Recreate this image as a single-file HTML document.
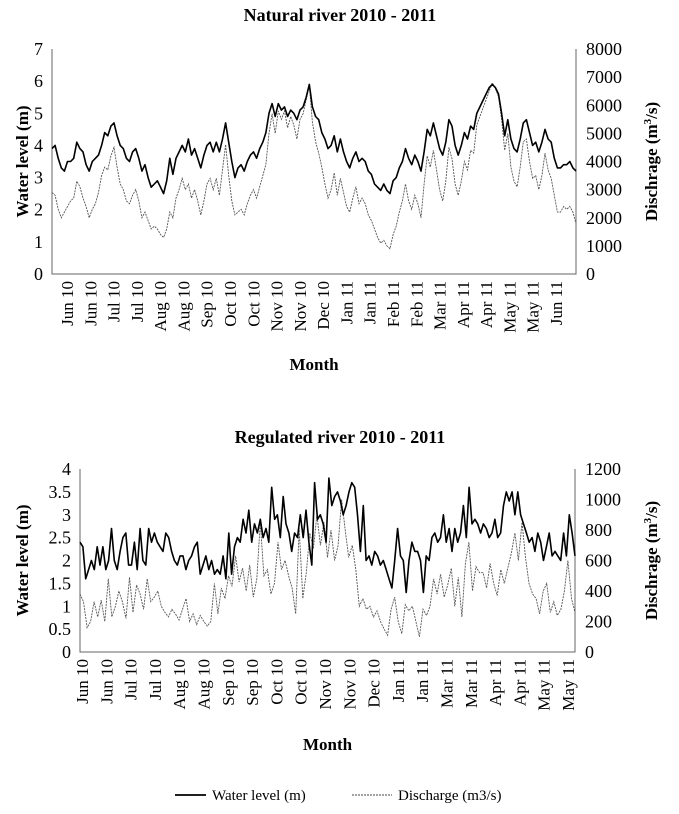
<!DOCTYPE html>
<html><head><meta charset="utf-8"><style>
body{margin:0;background:#fff}
svg{display:block;font-family:"Liberation Serif",serif}
</style></head><body>
<svg id="s" width="679" height="814" viewBox="0 0 679 814">
<text x="340" y="21" text-anchor="middle" font-size="18" font-weight="bold">Natural river 2010 - 2011</text>
<text x="340" y="443" text-anchor="middle" font-size="18" font-weight="bold">Regulated river 2010 - 2011</text>
<g>
<line x1="175" y1="795" x2="206" y2="795" stroke="#000" stroke-width="1.8"/>
<text x="212" y="800" font-size="15">Water level (m)</text>
<line x1="352" y1="795" x2="392" y2="795" stroke="#444" stroke-width="0.9" stroke-dasharray="2,1"/>
<text x="398" y="800" font-size="15">Discharge (m3/s)</text>
</g>
</svg>
<script>
const topLabels=["Jun 10","Jun 10","Jul 10","Jul 10","Aug 10","Aug 10","Sep 10","Oct 10","Oct 10","Nov 10","Nov 10","Dec 10","Jan 11","Jan 11","Feb 11","Feb 11","Mar 11","Apr 11","Apr 11","May 11","May 11","Jun 11"];
const botLabels=["Jun 10","Jun 10","Jul 10","Jul 10","Aug 10","Aug 10","Sep 10","Sep 10","Oct 10","Oct 10","Nov 10","Nov 10","Dec 10","Jan 11","Jan 11","Mar 11","Mar 11","Apr 11","Apr 11","May 11","May 11"];
const topLeftTicks=[0,1,2,3,4,5,6,7];
const topRightTicks=[0,1000,2000,3000,4000,5000,6000,7000,8000];
const botLeftTicks=[0,0.5,1,1.5,2,2.5,3,3.5,4];
const botRightTicks=[0,200,400,600,800,1000,1200];
const topLevel=[3.9,4.0,3.6,3.3,3.2,3.5,3.5,3.6,4.1,3.9,3.8,3.4,3.2,3.5,3.6,3.7,4.0,4.4,4.3,4.6,4.7,4.3,4.0,3.9,3.6,3.5,3.8,3.9,3.6,3.2,3.4,3.0,2.7,2.8,2.9,2.7,2.5,2.9,3.6,3.1,3.6,3.8,4.0,3.8,4.2,3.7,3.9,3.6,3.3,3.7,4.0,4.1,3.8,4.1,3.8,4.2,4.7,4.1,3.5,3.0,3.3,3.4,3.2,3.5,3.7,3.8,3.6,3.9,4.1,4.4,5.0,5.3,4.9,5.3,5.1,5.2,4.9,5.1,5.0,4.8,5.1,5.2,5.5,5.9,5.2,4.9,4.8,4.4,4.2,3.9,4.0,4.3,3.8,4.2,3.8,3.5,3.3,3.6,3.8,3.5,3.6,3.5,3.2,3.1,2.8,2.7,2.6,2.8,2.6,2.5,2.9,3.0,3.3,3.5,3.9,3.6,3.4,3.7,3.5,3.2,3.8,4.5,4.3,4.7,4.3,3.9,3.7,4.1,4.8,4.6,4.0,3.7,4.0,4.4,4.2,4.6,4.5,5.0,5.2,5.4,5.6,5.8,5.9,5.8,5.6,5.0,4.3,4.8,4.2,3.9,3.8,4.2,4.7,4.8,4.4,4.0,4.1,3.8,4.1,4.5,4.2,4.1,3.6,3.3,3.3,3.4,3.4,3.5,3.3,3.2];
const topFlow=[2900,2800,2300,2000,2200,2400,2600,2700,3300,3100,2700,2400,2000,2300,2500,2900,3500,3800,3700,4200,4500,3800,3200,3000,2600,2500,2800,3000,2600,2000,2200,1900,1600,1700,1600,1400,1300,1600,2200,2000,2700,3000,3400,3000,3200,2700,3000,2600,2100,2600,3200,3400,3000,3400,2800,3700,4600,3500,2600,2100,2200,2300,2100,2500,2800,3000,2700,3100,3500,3900,5000,5700,5000,5800,5500,5800,5200,5600,5300,4800,5500,5700,6200,6700,5400,4700,4300,3800,3200,2700,3000,3600,2800,3400,2900,2400,2200,2700,3100,2500,2700,2500,2100,1900,1600,1300,1100,1200,1000,900,1400,1700,2200,2600,3200,2600,2300,2800,2500,2000,3200,4200,3800,4400,3700,3000,2600,3300,4500,4100,3200,2800,3300,4000,3700,4400,4300,5300,5600,5900,6200,6500,6800,6600,6300,5500,4400,5000,3800,3300,3100,3800,4700,4800,4000,3400,3500,3000,3500,4300,3700,3400,2800,2200,2200,2400,2300,2400,2200,1800];
const botLevel=[2.4,2.3,1.6,1.8,2.0,1.8,2.3,1.9,2.3,1.8,2.0,2.7,2.0,1.8,2.2,2.5,2.6,1.9,1.9,2.4,1.8,2.7,2.0,1.9,2.7,2.4,2.6,2.4,2.3,2.2,2.6,2.5,2.2,2.0,1.9,2.1,2.1,1.8,2.0,2.1,2.3,2.4,1.7,1.9,2.1,1.8,2.0,1.7,1.8,1.7,2.1,1.6,2.6,1.7,2.3,2.5,2.4,2.9,2.6,3.1,2.4,2.8,2.6,2.9,2.5,2.7,2.4,3.6,2.9,3.0,2.5,3.4,2.8,2.6,2.2,2.6,2.5,3.0,2.5,3.1,2.4,1.9,3.7,2.9,3.0,2.8,2.4,3.8,3.2,3.4,3.5,3.3,3.0,3.2,3.5,3.7,3.6,3.0,2.2,3.2,2.0,2.1,1.9,2.2,2.1,1.9,2.0,1.8,1.6,1.4,2.0,2.7,2.1,2.0,1.3,2.0,2.4,2.2,2.2,2.0,1.3,2.1,2.0,2.5,2.6,2.4,2.5,3.0,2.4,2.7,2.2,2.7,2.4,2.6,3.2,2.5,3.6,2.8,2.9,2.8,2.6,2.8,2.7,2.5,2.6,2.9,2.5,2.6,3.2,3.5,3.3,3.5,3.0,3.5,3.0,2.8,2.6,2.4,2.5,2.2,2.6,2.4,2.0,2.3,2.6,2.1,2.2,2.1,2.0,2.6,2.1,3.0,2.6,2.1];
const botFlow=[380,330,160,200,330,230,340,200,480,230,300,400,330,220,490,260,440,380,280,480,330,360,400,300,260,230,280,250,210,280,350,200,250,180,240,200,170,200,450,250,420,350,500,430,630,460,550,400,570,360,480,850,500,540,380,450,720,540,600,500,420,250,810,350,520,780,680,900,700,850,620,800,600,700,1000,800,620,700,540,300,350,280,300,230,270,200,150,110,280,360,200,120,310,270,300,200,100,280,240,300,480,380,510,360,440,550,300,490,230,580,720,400,560,520,520,420,580,450,370,540,450,550,650,780,600,850,620,450,380,350,250,400,450,260,330,240,280,400,600,350,260];

const NS='http://www.w3.org/2000/svg';
const svg=document.getElementById('s');
function mk(tag,attrs,parent){const e=document.createElementNS(NS,tag);for(const k in attrs)e.setAttribute(k,attrs[k]);(parent||svg).appendChild(e);return e;}

function chart(cfg){
  const g=mk('g',{});
  
  
  const yL=v=>cfg.y0-(v-cfg.lmin)/(cfg.lmax-cfg.lmin)*(cfg.y0-cfg.y1);
  const yR=v=>cfg.y0-(v-cfg.rmin)/(cfg.rmax-cfg.rmin)*(cfg.y0-cfg.y1);
  const xs=(i,n)=>cfg.x0+i/(n-1)*(cfg.x1-cfg.x0);
  const ax=mk('path',{d:`M${cfg.x0},${cfg.y1}V${cfg.y0}H${cfg.x1}V${cfg.y1}`,fill:'none',stroke:'#666','stroke-width':1},g);
  
  
  cfg.lt.forEach(v=>{const t=mk('text',{x:cfg.x0-9,y:yL(v)+6,'text-anchor':'end','font-size':18},g);t.textContent=v;
    
    });
  cfg.rt.forEach(v=>{const t=mk('text',{x:cfg.x1+10,y:yR(v)+6,'text-anchor':'start','font-size':18},g);t.textContent=v;
    
    });
  const n=cfg.labels.length;
  cfg.labels.forEach((l,i)=>{const x=cfg.lx0+i*(cfg.lx1-cfg.lx0)/(n-1);
    const t=mk('text',{x:0,y:0,'text-anchor':'end','font-size':17,transform:`translate(${x+6},${cfg.y0+7}) rotate(-90)`},g);t.textContent=l;
    
    });
  const mt=mk('text',{x:(cfg.x0+cfg.x1)/2,y:cfg.monthY,'text-anchor':'middle','font-size':17,'font-weight':'bold'},g);mt.textContent='Month';
  
  
  const cy=(cfg.y0+cfg.y1)/2;
  const lt=mk('text',{x:0,y:0,'text-anchor':'middle','font-size':17,'font-weight':'bold',transform:`translate(${cfg.ltx},${cy}) rotate(-90)`},g);lt.textContent='Water level (m)';
  
  
  const rtt=mk('text',{x:0,y:0,'text-anchor':'middle','font-size':17,'font-weight':'bold',transform:`translate(${cfg.rtx},${cy}) rotate(-90)`},g);
  rtt.innerHTML='Dischrage (m<tspan font-size="11" dy="-6">3</tspan><tspan dy="6">/s)</tspan>';
  
  
  const fd=cfg.flow.map((v,i)=>(i?'L':'M')+xs(i,cfg.flow.length).toFixed(1)+','+yR(v).toFixed(1)).join('');
  const fp=mk('path',{d:fd,fill:'none',stroke:'#555','stroke-width':0.9,'stroke-dasharray':'2,1'},g);
  
  
  const ld=cfg.level.map((v,i)=>(i?'L':'M')+xs(i,cfg.level.length).toFixed(1)+','+yL(v).toFixed(1)).join('');
  const lp=mk('path',{d:ld,fill:'none',stroke:'#000','stroke-width':1.6,'stroke-linejoin':'round'},g);
  
  
}
chart({name:'natural-river-chart',x0:52,x1:576,y0:274,y1:49,lmin:0,lmax:7,rmin:0,rmax:8000,lt:topLeftTicks,rt:topRightTicks,labels:topLabels,lx0:67,lx1:556,monthY:370,ltx:28,rtx:657,level:topLevel,flow:topFlow});
chart({name:'regulated-river-chart',x0:80,x1:575,y0:652,y1:469,lmin:0,lmax:4,rmin:0,rmax:1200,lt:botLeftTicks,rt:botRightTicks,labels:botLabels,lx0:82,lx1:568,monthY:750,ltx:28,rtx:657,level:botLevel,flow:botFlow});
</script>
</body></html>
